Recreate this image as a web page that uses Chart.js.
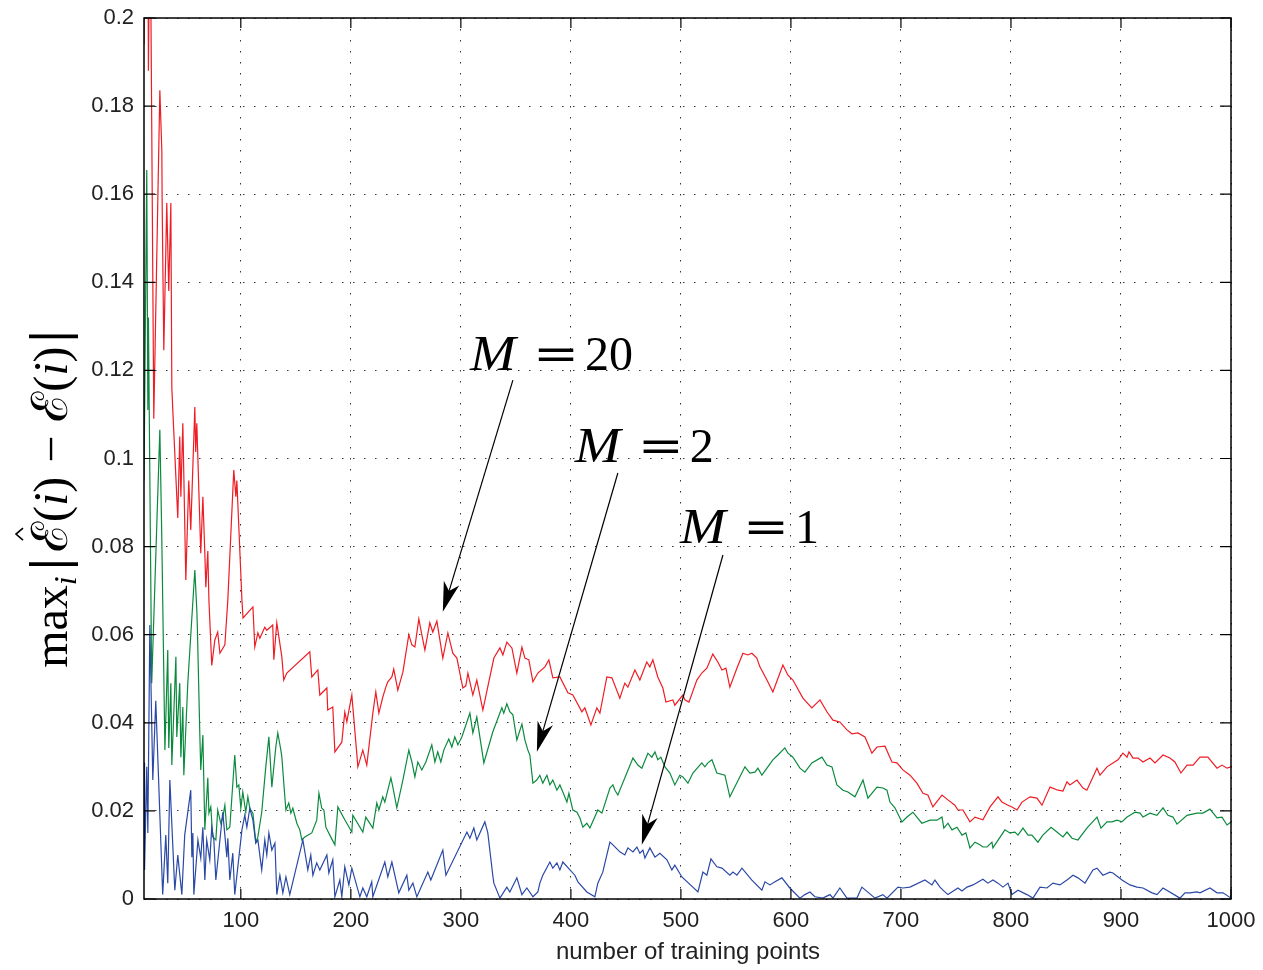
<!DOCTYPE html>
<html>
<head>
<meta charset="utf-8">
<script src="https://cdn.jsdelivr.net/npm/chart.js@4.4.0/dist/chart.umd.min.js"></script>
<style>
  html, body { margin: 0; padding: 0; background: #fff; }
  #wrap { width: 1263px; height: 970px; }
</style>
</head>
<body>
<div id="wrap"><canvas id="chart" width="1263" height="970"></canvas></div>
<script>
// ticks
var xTicks = [100, 200, 300, 400, 500, 600, 700, 800, 900, 1000];
var yTicks = [0, 0.02, 0.04, 0.06, 0.08, 0.1, 0.12, 0.14, 0.16, 0.18, 0.2];
var yTickLabels = ['0', '0.02', '0.04', '0.06', '0.08', '0.1', '0.12', '0.14', '0.16', '0.18', '0.2'];

// M = 20
var redX = [12, 13, 15.5, 16, 17.5, 20.9, 26.4, 28.2, 28.5, 30, 32.7, 34.5, 36.4, 37.3, 39, 42.7, 44.5, 45.5, 47.3, 50, 52.7, 54.5, 58.2, 59, 60, 63.6, 65.5, 67.3, 68.2, 70, 71, 73.6, 76.4, 79, 81, 85.5, 88.2, 93.6, 95.5, 96.4, 101, 102, 111, 112.7, 115.5, 117.3, 121.8, 123.6, 129, 130, 132.7, 137.3, 139, 141.8, 162.7, 164.5, 170, 171.8, 178.2, 179, 183.6, 185.5, 191.8, 194.5, 196.4, 197.3, 200.9, 206.4, 210.9, 214.5, 220, 222.7, 225.5, 229, 231.8, 233.6, 237.3, 239, 242.7, 247.3, 252.7, 255.5, 258.2, 261.8, 264.5, 267.3, 271.8, 274.5, 278.2, 283.6, 288.2, 292.7, 296.4, 301.8, 304.5, 306.4, 310.9, 314.5, 320, 330, 335.5, 338.2, 341.8, 346.4, 350.9, 355.5, 358.2, 361.8, 365.5, 370, 376.4, 380, 383.6, 390, 397.3, 401.8, 410, 412.7, 418.2, 423.6, 426.4, 432.7, 437.3, 444.5, 449, 451.8, 458.2, 462.7, 469, 471.8, 474.5, 479, 483.6, 486.4, 492.7, 494.5, 501.8, 503.6, 507.3, 514.5, 519, 523.6, 529, 533.6, 537.3, 540.9, 544.5, 550.9, 556.4, 560.9, 564.5, 569, 571.8, 578.2, 583.6, 592.7, 597.3, 601.8, 610.9, 619, 626.4, 632.7, 638.2, 644.5, 650.9, 655.5, 660.9, 667.3, 673.6, 678.2, 685.5, 691.8, 696.4, 701.8, 708.2, 714.5, 720, 724.5, 729, 737.3, 742.7, 749, 751.8, 756.4, 762.7, 767.3, 774.5, 781, 788.2, 791.8, 797.3, 800.9, 805.5, 810, 817.3, 823.6, 828.2, 835.5, 842.7, 847.3, 850.9, 853.6, 860, 865.5, 869, 878.2, 880.9, 887.3, 892.7, 897.3, 901.8, 905.5, 907.3, 910.9, 915.5, 920, 926.4, 930.9, 938.2, 944.5, 949, 954.5, 960, 965.5, 971.8, 979, 987.3, 991.8, 996.4, 1000];
var redY = [0.194, 0.23, 0.23, 0.188, 0.23, 0.109, 0.1836, 0.17, 0.158, 0.1246, 0.158, 0.138, 0.158, 0.116, 0.1065, 0.0865, 0.105, 0.0913, 0.108, 0.0724, 0.095, 0.0838, 0.1117, 0.1015, 0.108, 0.0785, 0.0913, 0.0785, 0.0708, 0.079, 0.0679, 0.053, 0.0588, 0.0606, 0.0558, 0.0577, 0.0679, 0.0974, 0.0913, 0.095, 0.0679, 0.0638, 0.0663, 0.0572, 0.0604, 0.0592, 0.0617, 0.061, 0.0622, 0.0543, 0.0627, 0.0549, 0.0497, 0.0513, 0.0561, 0.0504, 0.052, 0.0463, 0.0479, 0.0429, 0.0436, 0.0334, 0.0356, 0.0424, 0.0402, 0.0415, 0.0463, 0.03, 0.0338, 0.0304, 0.0422, 0.047, 0.0422, 0.0458, 0.0481, 0.0493, 0.0504, 0.0522, 0.0474, 0.0515, 0.06, 0.0577, 0.0572, 0.0636, 0.06, 0.0565, 0.0627, 0.0606, 0.0631, 0.0547, 0.0604, 0.0558, 0.0547, 0.0479, 0.0484, 0.0513, 0.0463, 0.0497, 0.0429, 0.0547, 0.057, 0.0554, 0.0583, 0.057, 0.0513, 0.0572, 0.0547, 0.0543, 0.0493, 0.0513, 0.0527, 0.0543, 0.0502, 0.0504, 0.0468, 0.0463, 0.0425, 0.0434, 0.0395, 0.0434, 0.0422, 0.0504, 0.0502, 0.0456, 0.049, 0.0481, 0.052, 0.0497, 0.0538, 0.0527, 0.0543, 0.0504, 0.0479, 0.0447, 0.0452, 0.044, 0.0463, 0.0452, 0.0447, 0.0497, 0.0513, 0.0524, 0.0556, 0.0538, 0.052, 0.0524, 0.0481, 0.0524, 0.0558, 0.0554, 0.0558, 0.0547, 0.0527, 0.0497, 0.047, 0.0531, 0.0508, 0.0497, 0.0456, 0.0434, 0.0452, 0.0425, 0.0406, 0.0402, 0.0384, 0.0375, 0.0377, 0.0368, 0.0331, 0.0345, 0.0347, 0.0311, 0.0309, 0.0293, 0.0281, 0.0263, 0.024, 0.0236, 0.0209, 0.0236, 0.0225, 0.0213, 0.0202, 0.0202, 0.0175, 0.0186, 0.018, 0.0209, 0.0232, 0.022, 0.0213, 0.0209, 0.0202, 0.022, 0.0232, 0.0229, 0.0213, 0.0254, 0.0247, 0.0245, 0.0266, 0.0259, 0.027, 0.0252, 0.0247, 0.0297, 0.0281, 0.03, 0.0309, 0.0316, 0.0331, 0.0322, 0.0334, 0.032, 0.032, 0.0311, 0.032, 0.0309, 0.0327, 0.032, 0.0311, 0.0286, 0.0304, 0.0304, 0.0322, 0.0322, 0.0297, 0.0304, 0.0297, 0.03];

// M = 2
var greenX = [12, 14.5, 15.5, 16, 19, 26.4, 28, 28.5, 31, 33.6, 34.5, 36.4, 37.3, 41, 41.8, 44.5, 45.5, 47.3, 48.2, 51.8, 58.2, 60, 60.5, 62.7, 63.6, 65.5, 67.3, 70, 71, 72.7, 74.5, 77.3, 79, 81.8, 83.6, 85.5, 87.3, 90, 94.5, 96.4, 98.2, 100, 101.8, 104.5, 106.4, 108.2, 111, 113.6, 115.5, 119, 122.7, 125.5, 128.2, 131.8, 133.6, 136.4, 137.3, 140, 141, 143.6, 145.5, 147.3, 150.9, 153.6, 155.5, 158.2, 164.5, 169, 171, 173.6, 175.5, 177.3, 180.9, 185.5, 188.2, 194.5, 200.9, 201.8, 210.9, 213.6, 220, 223.6, 225.5, 229, 230.9, 236.4, 238.2, 241.8, 247.3, 252.7, 255.5, 258.2, 260.9, 264.5, 268.2, 273.6, 276.4, 279, 281.8, 284.5, 289, 291.8, 294.5, 297.3, 300.9, 308.2, 310.9, 314.5, 320.9, 329, 337.3, 339, 341.8, 344.5, 347.3, 350.9, 355.5, 358.2, 360.9, 362.7, 365.5, 369, 371.8, 374.5, 378.2, 380.9, 383.6, 387.3, 390, 392.7, 396.4, 398.2, 401.8, 405.5, 408.2, 410.9, 414.5, 417.3, 424.5, 428.2, 435.5, 438.2, 440, 442.7, 456.4, 460.9, 464.5, 470, 473.6, 476.4, 479, 481.8, 485.5, 490, 494.5, 499, 501.8, 506.4, 510.9, 519, 521.8, 524.5, 528.2, 532.7, 540, 544.5, 558.2, 562.7, 567.3, 570, 573.6, 578.2, 583.6, 588.2, 594.5, 597.3, 601.8, 608.2, 612.7, 619, 628.2, 632.7, 637.3, 641.8, 647.3, 651.8, 658.2, 665.5, 670, 678.2, 683.6, 687.3, 690, 694.5, 700.9, 705.5, 710.9, 714.5, 719, 726.4, 732.7, 737.3, 739, 742.7, 746.4, 750.9, 755.5, 759, 762.7, 767.3, 771.8, 774.5, 778.2, 782.7, 783.6, 794.5, 799, 803.6, 806.4, 810.9, 815.5, 819, 824.5, 829, 836.4, 841.8, 847.3, 850.9, 855.5, 860.9, 869, 878.2, 881.8, 887.3, 891.8, 896.4, 900.9, 905.5, 908.2, 912.7, 917.3, 920, 926.4, 932.7, 938.2, 942.7, 947.3, 950.9, 960, 969, 974.5, 980.9, 987.3, 991.8, 996.4, 1000];
var greenY = [0.095, 0.1655, 0.111, 0.132, 0.049, 0.1065, 0.0845, 0.0765, 0.0338, 0.0565, 0.0343, 0.049, 0.0304, 0.055, 0.0368, 0.049, 0.0322, 0.0436, 0.0281, 0.049, 0.0747, 0.0656, 0.0617, 0.0377, 0.0293, 0.0372, 0.0157, 0.0275, 0.0195, 0.0209, 0.0141, 0.0134, 0.0202, 0.0172, 0.0186, 0.0213, 0.0157, 0.0163, 0.0327, 0.0254, 0.0259, 0.0206, 0.0243, 0.0197, 0.0232, 0.0206, 0.0195, 0.0129, 0.0141, 0.0197, 0.03, 0.0368, 0.0254, 0.0345, 0.0377, 0.0338, 0.0322, 0.0232, 0.0202, 0.0218, 0.0195, 0.0206, 0.0172, 0.0157, 0.0134, 0.0141, 0.015, 0.0179, 0.024, 0.0206, 0.0202, 0.0163, 0.0145, 0.0123, 0.0209, 0.018, 0.0152, 0.019, 0.0152, 0.0186, 0.0161, 0.0218, 0.0202, 0.0232, 0.022, 0.0275, 0.0254, 0.0207, 0.027, 0.0338, 0.0311, 0.0277, 0.0311, 0.0293, 0.0311, 0.035, 0.0311, 0.0334, 0.0311, 0.0338, 0.0363, 0.0345, 0.0368, 0.035, 0.0368, 0.0422, 0.0377, 0.0413, 0.0309, 0.0379, 0.0434, 0.0422, 0.0443, 0.0425, 0.0418, 0.0361, 0.0397, 0.0361, 0.0338, 0.0327, 0.0263, 0.027, 0.0281, 0.0263, 0.0281, 0.0259, 0.027, 0.0247, 0.0259, 0.0243, 0.022, 0.024, 0.0202, 0.0197, 0.0184, 0.0163, 0.0172, 0.0161, 0.0202, 0.0195, 0.0252, 0.0259, 0.0247, 0.0236, 0.032, 0.0304, 0.0297, 0.0331, 0.0322, 0.0334, 0.0316, 0.0322, 0.03, 0.0286, 0.0259, 0.0281, 0.0277, 0.0263, 0.0286, 0.0309, 0.03, 0.0309, 0.0316, 0.0286, 0.0281, 0.0232, 0.03, 0.0286, 0.0288, 0.0297, 0.0281, 0.0297, 0.0316, 0.0327, 0.0343, 0.0331, 0.0322, 0.0297, 0.0288, 0.0309, 0.0322, 0.0304, 0.03, 0.0259, 0.0247, 0.0243, 0.0232, 0.027, 0.0229, 0.0254, 0.0252, 0.0247, 0.022, 0.0207, 0.0175, 0.0186, 0.0197, 0.0186, 0.0172, 0.0179, 0.0179, 0.0186, 0.0161, 0.0172, 0.0157, 0.0163, 0.0145, 0.015, 0.0116, 0.0129, 0.0123, 0.0118, 0.0118, 0.0129, 0.0116, 0.0157, 0.015, 0.0152, 0.0145, 0.0161, 0.0145, 0.0145, 0.0129, 0.0145, 0.0163, 0.0152, 0.0141, 0.0152, 0.0138, 0.0134, 0.0161, 0.0186, 0.0161, 0.0175, 0.0175, 0.0179, 0.0175, 0.0186, 0.019, 0.0197, 0.0195, 0.0186, 0.0195, 0.019, 0.0207, 0.019, 0.0186, 0.017, 0.019, 0.0195, 0.0195, 0.0204, 0.0184, 0.0186, 0.0168, 0.0175];

// M = 1
var blueX = [12, 12.5, 14.5, 15.5, 17.3, 20, 22.7, 29, 31.8, 33.6, 35.5, 40, 42.7, 46.4, 49, 54.5, 55.5, 56.4, 57.3, 61, 63.6, 65.5, 67.3, 69, 71.8, 73.6, 75.5, 77.3, 81, 83.6, 87.3, 88.2, 90, 92.7, 94.5, 101, 103.6, 105.5, 108.2, 111, 113.6, 115.5, 119, 121.8, 123.6, 125.5, 128.2, 131, 132.7, 135.5, 138.2, 141, 144.5, 156.4, 160.9, 163.6, 165.5, 169, 171.8, 178.2, 180, 183.6, 185.5, 190, 191.8, 194.5, 198.2, 200.9, 208.2, 210.9, 214.5, 219, 220, 230.9, 233.6, 237.3, 243.6, 250.9, 252.7, 256.4, 260, 270, 272.7, 283.6, 286.4, 305.5, 308.2, 311.8, 314.5, 321.8, 324.5, 329, 330, 335.5, 341.8, 344.5, 350.9, 355.5, 360, 365.5, 370, 371.8, 374.5, 380.9, 383.6, 387.3, 390, 392.7, 403.6, 406.4, 414.5, 421.8, 424.5, 429, 432.7, 435.5, 438.2, 444.5, 449, 451.8, 456.4, 460, 462.7, 465.5, 467.3, 471.8, 476.4, 480.9, 487.3, 491.8, 494.5, 500.9, 515.5, 520, 523.6, 527.3, 532.7, 537.3, 544.5, 547.3, 550.9, 555.5, 564.5, 573.6, 576.4, 580.9, 585.5, 591.8, 599, 608.2, 612.7, 617.3, 621.8, 629, 635.5, 638.2, 644.5, 650.9, 660, 664.5, 676.4, 683.6, 687.3, 697.3, 701.8, 708.2, 721.8, 728.2, 730.9, 735.5, 738.2, 742.7, 751.8, 755.5, 760, 765.5, 774.5, 779, 783.6, 788.2, 792.7, 797.3, 800.9, 806.4, 814.5, 820, 826.4, 832.7, 838.2, 844.5, 850.9, 856.4, 860.9, 867.3, 874.5, 878.2, 883.6, 890, 892.7, 900.9, 908.2, 914.5, 920, 928.2, 932.7, 938.2, 953.6, 958.2, 962.7, 969, 971.8, 980.9, 987.3, 992.7, 1000];
var blueY = [0.031, 0.0066, 0.03, 0.015, 0.0622, 0.027, 0.045, 0.001, 0.0145, 0.0036, 0.027, 0.002, 0.01, 0.001, 0.0145, 0.0247, 0.0095, 0.015, 0.001, 0.0134, 0.0093, 0.0163, 0.0043, 0.0134, 0.0089, 0.0163, 0.0134, 0.0043, 0.0134, 0.0197, 0.0095, 0.0138, 0.0043, 0.0104, 0.001, 0.0157, 0.019, 0.0163, 0.0206, 0.0179, 0.0127, 0.0134, 0.0066, 0.0134, 0.01, 0.015, 0.0111, 0.0127, 0.001, 0.0054, 0.0014, 0.005, 0.001, 0.0134, 0.0066, 0.01, 0.0054, 0.0082, 0.0066, 0.01, 0.0059, 0.0089, 0.0005, 0.0043, 0.0005, 0.0073, 0.0032, 0.007, 0.0005, 0.0025, 0.0005, 0.0039, 0.0005, 0.0084, 0.005, 0.0084, 0.0014, 0.0054, 0.002, 0.0036, 0.0005, 0.0061, 0.0043, 0.0111, 0.0054, 0.0152, 0.0138, 0.0161, 0.0134, 0.0175, 0.015, 0.0054, 0.0036, 0.0002, 0.0027, 0.0016, 0.0048, 0.001, 0.0025, 0.0005, 0.0016, 0.0036, 0.0054, 0.0084, 0.007, 0.0082, 0.0066, 0.0084, 0.0054, 0.0039, 0.0016, 0.0005, 0.0036, 0.0061, 0.01, 0.0129, 0.0123, 0.0107, 0.01, 0.0116, 0.0107, 0.0118, 0.0104, 0.0111, 0.0093, 0.0116, 0.0095, 0.0104, 0.0089, 0.0066, 0.0077, 0.005, 0.0016, 0.0061, 0.0054, 0.0091, 0.0073, 0.007, 0.0054, 0.0061, 0.0054, 0.007, 0.0043, 0.002, 0.0039, 0.0032, 0.0039, 0.0048, 0.0025, 0.0002, 0.001, 0.0016, 0.0005, 0.0002, 0.001, 0.0002, 0.0025, 0.0002, 0.0002, 0.0027, 0.0002, 0.001, 0.0002, 0.0027, 0.0025, 0.0027, 0.0043, 0.0032, 0.0043, 0.0027, 0.002, 0.001, 0.0025, 0.0018, 0.0027, 0.0032, 0.0045, 0.0036, 0.0043, 0.0036, 0.0027, 0.0036, 0.001, 0.002, 0.001, 0.0002, 0.0027, 0.0025, 0.0036, 0.0032, 0.0043, 0.0054, 0.0048, 0.0036, 0.0066, 0.007, 0.0054, 0.0061, 0.0059, 0.0043, 0.0032, 0.0027, 0.0025, 0.0014, 0.001, 0.0025, 0.0002, 0.0014, 0.0014, 0.0016, 0.0014, 0.0025, 0.0014, 0.0014, 0.0002];

// text labels with arrows (text anchor, arrow start, arrow tip in data units)
var notes = [
  { num: '20', tx: 308.2, ty: 0.1201, fx: 347.3, fy: 0.1178, ax: 283.6, ay: 0.0652 },
  { num: '2',  tx: 403.6, ty: 0.0992, fx: 442.7, fy: 0.0967, ax: 369.1, ay: 0.0334 },
  { num: '1',  tx: 499.1, ty: 0.0808, fx: 538.2, fy: 0.0781, ax: 464.5, ay: 0.0123 }
];

function pts(xs, ys) {
  return xs.map(function (x, i) { return { x: x, y: ys[i] }; });
}

function serie(xs, ys, color) {
  return {
    data: pts(xs, ys),
    borderColor: color,
    borderWidth: 1.2,
    pointRadius: 0,
    tension: 0,
    fill: false
  };
}

var SERIF = '"Liberation Serif", serif';

var frame = {
  id: 'frame',
  afterDraw: function (chart) {
    var ctx = chart.ctx, a = chart.chartArea;
    var sx = chart.scales.x, sy = chart.scales.y;
    ctx.save();
    ctx.strokeStyle = '#000';
    ctx.lineWidth = 1.5;
    ctx.strokeRect(a.left, a.top, a.right - a.left, a.bottom - a.top);
    // inward ticks on all sides
    ctx.lineWidth = 1.2;
    ctx.beginPath();
    xTicks.forEach(function (v) {
      var p = sx.getPixelForValue(v);
      ctx.moveTo(p, a.bottom); ctx.lineTo(p, a.bottom - 10);
      ctx.moveTo(p, a.top); ctx.lineTo(p, a.top + 10);
    });
    yTicks.forEach(function (v) {
      var p = sy.getPixelForValue(v);
      ctx.moveTo(a.left, p); ctx.lineTo(a.left + 11, p);
      ctx.moveTo(a.right, p); ctx.lineTo(a.right - 11, p);
    });
    ctx.stroke();

    // x axis title
    ctx.fillStyle = '#222';
    ctx.font = '24px "Liberation Sans", Arial, sans-serif';
    ctx.textAlign = 'center';
    ctx.textBaseline = 'alphabetic';
    ctx.fillText('number of training points', 688, 959);

    // y axis title: max_i |Ê(i) − E(i)|
    var parts = [
      { t: 'max', f: '48px ' + SERIF },
      { t: 'i', f: 'italic 32px ' + SERIF, dy: 9, gap: 4 },
      { t: '|', f: '48px "DejaVu Serif", serif', gap: 4 },
      { t: 'ℰ', f: '50px "DejaVu Serif", serif', hat: true },
      { t: '(', f: '48px ' + SERIF },
      { t: 'i', f: 'italic 48px ' + SERIF },
      { t: ')', f: '48px ' + SERIF, gap: 14 },
      { t: '−', f: '48px ' + SERIF, gap: 14 },
      { t: 'ℰ', f: '50px "DejaVu Serif", serif' },
      { t: '(', f: '48px ' + SERIF },
      { t: 'i', f: 'italic 48px ' + SERIF },
      { t: ')', f: '48px ' + SERIF, gap: 2 },
      { t: '|', f: '48px "DejaVu Serif", serif' }
    ];
    var total = 0;
    parts.forEach(function (p) { ctx.font = p.f; p.w = ctx.measureText(p.t).width + (p.gap || 0); total += p.w; });
    ctx.translate(67, 498);
    ctx.rotate(-Math.PI / 2);
    ctx.textAlign = 'left';
    ctx.fillStyle = '#000';
    ctx.strokeStyle = '#000';
    var cx = -total / 2;
    parts.forEach(function (p) {
      ctx.font = p.f;
      ctx.fillText(p.t, cx, p.dy || 0);
      if (p.hat) {
        var hc = cx + p.w * 0.6;
        ctx.lineWidth = 1.6;
        ctx.beginPath();
        ctx.moveTo(hc - 6, -44);
        ctx.lineTo(hc, -51);
        ctx.lineTo(hc + 6, -44);
        ctx.stroke();
      }
      cx += p.w;
    });
    ctx.restore();

    // annotations
    ctx.save();
    notes.forEach(function (n) {
      var x0 = sx.getPixelForValue(n.tx), y0 = sy.getPixelForValue(n.ty);
      ctx.fillStyle = '#000';
      ctx.textAlign = 'left';
      ctx.textBaseline = 'alphabetic';
      ctx.save();
      ctx.translate(x0, y0);
      ctx.scale(1.1, 1);
      ctx.font = 'italic 50px ' + SERIF;
      ctx.fillText('M', 0, 0);
      ctx.restore();
      ctx.save();
      ctx.translate(x0 + 63, y0 - 1);
      ctx.scale(1.25, 1);
      ctx.font = '44px "DejaVu Serif", serif';
      ctx.fillText('=', 0, 0);
      ctx.restore();
      ctx.font = '48px ' + SERIF;
      ctx.fillText(n.num, x0 + 115, y0);

      var fx = sx.getPixelForValue(n.fx), fy = sy.getPixelForValue(n.fy);
      var ax = sx.getPixelForValue(n.ax), ay = sy.getPixelForValue(n.ay);
      var ang = Math.atan2(ay - fy, ax - fx);
      var L = 30, W = 8;
      ctx.strokeStyle = '#000';
      ctx.lineWidth = 1.2;
      ctx.beginPath();
      ctx.moveTo(fx, fy);
      ctx.lineTo(ax - Math.cos(ang) * 20, ay - Math.sin(ang) * 20);
      ctx.stroke();
      var bx = ax - Math.cos(ang) * L, by = ay - Math.sin(ang) * L;
      var nx = -Math.sin(ang), ny = Math.cos(ang);
      ctx.beginPath();
      ctx.moveTo(ax, ay);
      ctx.lineTo(bx + nx * W, by + ny * W);
      ctx.lineTo(ax - Math.cos(ang) * L * 0.72, ay - Math.sin(ang) * L * 0.72);
      ctx.lineTo(bx - nx * W, by - ny * W);
      ctx.closePath();
      ctx.fill();
    });
    ctx.restore();
  }
};

var ctx = document.getElementById('chart');
new Chart(ctx, {
  type: 'line',
  data: {
    datasets: [
      serie(blueX, blueY, '#2a48a6'),
      serie(greenX, greenY, '#0b8a3e'),
      serie(redX, redY, '#ee1c24')
    ]
  },
  options: {
    responsive: false,
    animation: false,
    maintainAspectRatio: false,
    layout: { padding: { left: 0, right: 32, top: 18, bottom: 0 } },
    plugins: { legend: { display: false }, tooltip: { enabled: false } },
    scales: {
      x: {
        type: 'linear',
        min: 12,
        max: 1000,
        afterBuildTicks: function (s) { s.ticks = xTicks.map(function (v) { return { value: v }; }); },
        afterFit: function (s) { s.height = 71; s.paddingLeft = 0; s.paddingRight = 0; },
        ticks: {
          padding: 9,
          color: '#222',
          font: { family: '"Liberation Sans", Arial, sans-serif', size: 22 },
          maxRotation: 0,
          autoSkip: false,
          callback: function (v) { return String(v); }
        },
        grid: { color: '#333', lineWidth: 1, drawTicks: false },
        border: { display: false, dash: [1.5, 9.5] }
      },
      y: {
        type: 'linear',
        min: 0,
        max: 0.2,
        afterBuildTicks: function (s) { s.ticks = yTicks.map(function (v) { return { value: v }; }); },
        afterFit: function (s) { s.width = 144; s.paddingTop = 0; s.paddingBottom = 0; },
        ticks: {
          padding: 10,
          color: '#222',
          font: { family: '"Liberation Sans", Arial, sans-serif', size: 22 },
          autoSkip: false,
          callback: function (v, i) { return yTickLabels[i]; }
        },
        grid: { color: '#333', lineWidth: 1, drawTicks: false },
        border: { display: false, dash: [1.5, 9.5] }
      }
    }
  },
  plugins: [frame]
});
</script>
</body>
</html>
